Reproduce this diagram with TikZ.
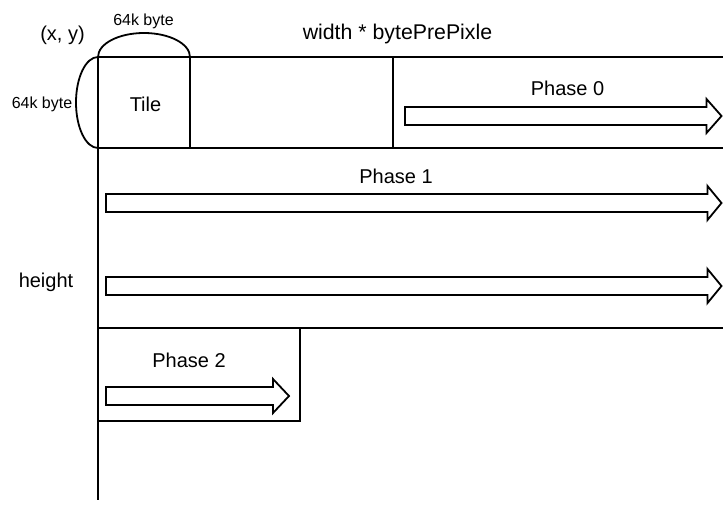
\documentclass[tikz,border=0pt]{standalone}
\usepackage{fontspec}
\setmainfont{Liberation Sans}
\usetikzlibrary{positioning}
\tikzset{
	frame/.style={draw, line width=1.8pt},
	lbl/.style={anchor=base, inner sep=0pt, font=\fontsize{20}{23}\selectfont},
	widelbl/.style={lbl, font=\fontsize{21.3}{24}\selectfont},
	smalllbl/.style={anchor=base, inner sep=0pt, font=\fontsize{16}{18}\selectfont},
	fatarrow/.style={draw, line width=1.8pt, fill=white, line join=miter},
}
% outline arrow: start x, tip x, middle y, head length
\newcommand{\blockarrow}[4]{%
	\draw[fatarrow] (#1,#3-9) -- (#2-#4,#3-9) -- (#2-#4,#3-17) -- (#2,#3)
		-- (#2-#4,#3+17) -- (#2-#4,#3+9) -- (#1,#3+9) -- cycle;}

\begin{document}
\begin{tikzpicture}[x=1pt, y=-1pt]
		\useasboundingbox (0,0) rectangle (723,506);
		% regions
		\draw[frame] (98,57) rectangle (190,148);
		\draw[frame] (190,57) rectangle (393,148);
		\draw[frame] (393,57) -- (723,57) (393,148) -- (723,148);
		\draw[frame] (98,148) -- (723,148) (98,328) -- (723,328);
		\draw[frame] (98,328) rectangle (300,421);
		\draw[frame] (98,57) -- (98,500);
		% tile size arcs
		\draw[frame] (98,57) arc[start angle=180, end angle=0, x radius=46pt, y radius=24pt];
		\draw[frame] (98,57) arc[start angle=90, end angle=270, x radius=22pt, y radius=45.5pt];
		% labels
		\node[lbl] (origin) at (62.5,40) {(x, y)};
		\node[smalllbl] (tilew) at (143.5,25) {64k byte};
		\node[smalllbl] (tileh) at (42,108) {64k byte};
		\node[lbl] (tile) at (145.5,111) {Tile};
		\node[widelbl] (width) at (397.5,39) {width * bytePrePixle};
		\node[lbl] (height) at (46,287) {height};
		\node[lbl] (ph0) at (567.5,95) {Phase 0};
		\node[lbl] (ph1) at (396,183) {Phase 1};
		\node[lbl] (ph2) at (189,367) {Phase 2};
		% phase arrows
		\blockarrow{405}{721.5}{116}{15}
		\blockarrow{106}{721.5}{203}{14}
		\blockarrow{106}{721.5}{286}{14}
		\blockarrow{106}{289}{396}{16}
	\end{tikzpicture}
\end{document}
